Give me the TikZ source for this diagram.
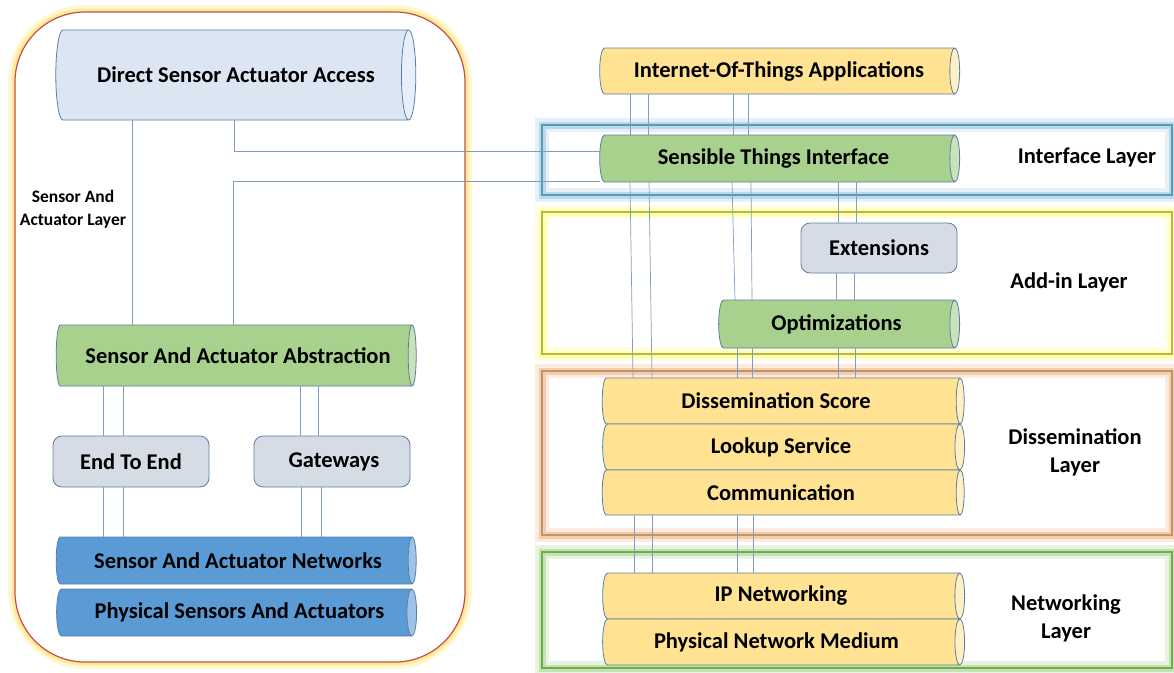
\documentclass[tikz,border=0pt]{standalone}
\usepackage{fontspec}
\setmainfont{Carlito}
\usetikzlibrary{shapes.geometric}
\definecolor{cylline}{HTML}{5A7FA6}
\definecolor{lbfill}{HTML}{DCE6F2}
\definecolor{lbcap}{HTML}{E8EFF8}
\definecolor{grfill}{HTML}{A9D18E}
\definecolor{grcap}{HTML}{C9E2B8}
\definecolor{yefill}{HTML}{FFE393}
\definecolor{yecap}{HTML}{FFF0C4}
\definecolor{blfill}{HTML}{5B9BD5}
\definecolor{blcap}{HTML}{9DC3E6}
\definecolor{gyfill}{HTML}{D6DCE5}
\definecolor{connc}{HTML}{809EBD}
\definecolor{frameline}{HTML}{C0504D}
\definecolor{frameglow}{HTML}{FFE680}
\definecolor{ifline}{HTML}{4FA0A8}
\definecolor{ifglow}{HTML}{9DC3E6}
\definecolor{adline}{HTML}{B8B84A}
\definecolor{adglow}{HTML}{FFFF80}
\definecolor{dsline}{HTML}{B89A6A}
\definecolor{dsglow}{HTML}{F4B183}
\definecolor{nwline}{HTML}{70AD47}
\definecolor{nwglow}{HTML}{A9D18E}
\tikzset{
  cyl/.style={cylinder, shape border rotate=0, draw=cylline, line width=0.8pt,
    aspect=0.5, inner sep=0pt, outer sep=0pt, cylinder uses custom fill,
    font=\bfseries\fontsize{22.5}{24}\selectfont},
  cylLB/.style={cyl, cylinder body fill=lbfill, cylinder end fill=lbcap},
  cylGR/.style={cyl, cylinder body fill=grfill, cylinder end fill=grcap},
  cylYE/.style={cyl, cylinder body fill=yefill, cylinder end fill=yecap},
  cylBL/.style={cyl, cylinder body fill=blfill, cylinder end fill=blcap},
  rbox/.style={rectangle, rounded corners=9pt, draw=cylline, fill=gyfill, line width=0.8pt,
    inner sep=0pt, outer sep=0pt, font=\bfseries\fontsize{22.5}{24}\selectfont},
  conn/.style={draw=connc, line width=0.7pt},
  lbl/.style={font=\bfseries\fontsize{22.5}{28}\selectfont, align=center, inner sep=0pt},
  glow/.style 2 args={preaction={draw=#1, line width=14pt, opacity=0.25},
    preaction={draw=#1, line width=7pt, opacity=0.55}, draw=#2, line width=1.1pt},
}
\begin{document}
\begin{tikzpicture}[x=1pt,y=-1pt]
\useasboundingbox (0,0) rectangle (1174,672);
% left frame
\draw[frameglow, line width=14pt, opacity=0.35, rounded corners=70pt] (15,12) rectangle (465,662);
\draw[frameglow, line width=7pt, opacity=0.75, rounded corners=70pt] (15,12) rectangle (465,662);
\fill[white, rounded corners=70pt] (15,12) rectangle (465,662);
\draw[frameline, line width=1.2pt, rounded corners=70pt] (15,12) rectangle (465,662);
% layer boxes
\draw[glow={ifglow}{ifline}] (542,125) rectangle (1172,195);
\draw[glow={adglow}{adline}] (542,212) rectangle (1172,354);
\draw[glow={dsglow}{dsline}] (542,371) rectangle (1172,535);
\draw[glow={nwglow}{nwline}] (542,552) rectangle (1172,668);
% left nodes
\node[cylLB, aspect=0.9, minimum height=360pt, minimum width=90pt] (dsa) at (232,75) {\hspace*{8pt}Direct Sensor Actuator Access};
\node[lbl, font=\bfseries\fontsize{17.5}{23}\selectfont] (sal) at (73,209) {Sensor And\\Actuator Layer};
\node[cylGR, minimum height=360pt, minimum width=61pt] (saa) at (234,355.5) {\hspace*{8pt}Sensor And Actuator Abstraction};
\node[rbox, minimum width=156pt, minimum height=51pt] (ete) at (131,461.5) {End To End};
\node[rbox, minimum width=156pt, minimum height=51pt] (gw) at (332,461.5) {\hspace*{4pt}Gateways};
\node[cylBL, minimum height=360pt, minimum width=47pt] (san) at (234,560.5) {\hspace*{8pt}Sensor And Actuator Networks};
\node[cylBL, minimum height=360pt, minimum width=47pt] (psa) at (234,612.5) {\hspace*{11pt}Physical Sensors And Actuators};
% right nodes
\node[cylYE, minimum height=360pt, minimum width=46pt] (iot) at (777,71) {\hspace*{4pt}Internet-Of-Things Applications};
\node[cylGR, minimum height=360pt, minimum width=47pt] (sti) at (777,158.5) {\hspace*{-7pt}Sensible Things Interface};
\node[rbox, minimum width=156pt, minimum height=50pt] (ext) at (879,248) {Extensions};
\node[cylGR, minimum height=241pt, minimum width=48pt] (opt) at (836.5,324) {Optimizations};
\node[cylYE, minimum height=362pt, minimum width=46pt] (dss) at (781,401) {\hspace*{-10pt}Dissemination Score};
\node[cylYE, minimum height=362pt, minimum width=46pt] (lks) at (781,447) {Lookup Service};
\node[cylYE, minimum height=362pt, minimum width=45pt] (com) at (781,492.5) {Communication};
\node[cylYE, minimum height=362pt, minimum width=46pt] (ipn) at (781,596) {IP Networking};
\node[cylYE, minimum height=362pt, minimum width=46pt] (pnm) at (781,642) {\hspace*{-9pt}Physical Network Medium};
% layer labels
\node[lbl] (ifl) at (1087,157) {Interface Layer};
\node[lbl] (adl) at (1069,282) {Add-in Layer};
\node[lbl] (dsl) at (1075,452) {Dissemination\\Layer};
\node[lbl] (nwl) at (1066,618) {Networking\\Layer};
% left connectors
\draw[conn] (132,0 |- dsa.south) -- (132,0 |- saa.north);
\draw[conn] (234,0 |- dsa.south) |- (sti.west |- 0,151);
\draw[conn] (233,0 |- saa.north) |- (sti.west |- 0,181);
\draw[conn] (103,0 |- saa.south) -- (103,0 |- ete.north);
\draw[conn] (123,0 |- saa.south) -- (123,0 |- ete.north);
\draw[conn] (300,0 |- saa.south) -- (300,0 |- gw.north);
\draw[conn] (318,0 |- saa.south) -- (318,0 |- gw.north);
\draw[conn] (103,0 |- ete.south) -- (103,0 |- san.north);
\draw[conn] (123,0 |- ete.south) -- (123,0 |- san.north);
\draw[conn] (301,0 |- gw.south) -- (301,0 |- san.north);
\draw[conn] (321,0 |- gw.south) -- (321,0 |- san.north);
% right connectors
\draw[conn] (630,0 |- iot.south) -- (630,0 |- sti.north);
\draw[conn] (648,0 |- iot.south) -- (648,0 |- sti.north);
\draw[conn] (733,0 |- iot.south) -- (733,0 |- sti.north);
\draw[conn] (748,0 |- iot.south) -- (748,0 |- sti.north);
\draw[conn] (630,0 |- sti.south) -- (633,0 |- dss.north);
\draw[conn] (649,0 |- sti.south) -- (652,0 |- dss.north);
\draw[conn] (732,0 |- sti.south) -- (735,0 |- opt.north);
\draw[conn] (751,0 |- sti.south) -- (752,0 |- opt.north);
\draw[conn] (838,0 |- sti.south) -- (838,0 |- ext.north);
\draw[conn] (856,0 |- sti.south) -- (856,0 |- ext.north);
\draw[conn] (836,0 |- ext.south) -- (836,0 |- opt.north);
\draw[conn] (854,0 |- ext.south) -- (854,0 |- opt.north);
\draw[conn] (737,0 |- opt.south) -- (737,0 |- dss.north);
\draw[conn] (752,0 |- opt.south) -- (752,0 |- dss.north);
\draw[conn] (838,0 |- opt.south) -- (838,0 |- dss.north);
\draw[conn] (855,0 |- opt.south) -- (855,0 |- dss.north);
\draw[conn] (634,0 |- com.south) -- (634,0 |- ipn.north);
\draw[conn] (652,0 |- com.south) -- (652,0 |- ipn.north);
\draw[conn] (737,0 |- com.south) -- (737,0 |- ipn.north);
\draw[conn] (753,0 |- com.south) -- (753,0 |- ipn.north);
\end{tikzpicture}
\end{document}
